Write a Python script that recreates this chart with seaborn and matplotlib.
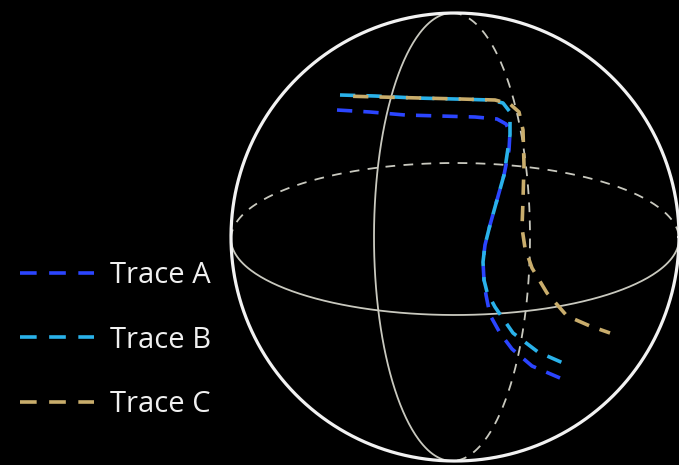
import matplotlib
matplotlib.use("Agg")
import matplotlib.pyplot as plt
import numpy as np
import pandas as pd
import seaborn as sns

# Sphere geometry (drawing coordinates, y grows downward)
sphere_center = (455, 237)
sphere_radius = 224
equator_minor = 76
meridian_minor = 78

# Trace paths on the sphere
trace_names = ["Trace A", "Trace B", "Trace C"]
trace_colors = ["#2b45ff", "#2ab2ea", "#c9ad6c"]

trace_a_x = [337, 370, 405, 440, 475, 497, 506, 510, 509, 504, 497, 490, 485, 483, 484, 486, 490, 500, 512, 532, 560]
trace_a_y = [110, 112, 115, 116, 117, 119, 124, 132, 150, 175, 200, 225, 245, 262, 280, 295, 315, 333, 349, 366, 378]

trace_b_x = [340, 375, 415, 455, 490, 503, 510, 510, 504, 497, 490, 485, 483, 484, 487, 495, 513, 538, 570]
trace_b_y = [95, 96, 98, 99, 100, 103, 112, 135, 175, 200, 225, 245, 262, 280, 292, 307, 333, 352, 366]

trace_c_x = [342, 380, 420, 460, 495, 510, 519, 523, 524, 523, 522, 525, 532, 547, 567, 590, 610]
trace_c_y = [96, 97, 98, 99, 100, 104, 112, 130, 165, 200, 228, 248, 268, 293, 316, 326, 333]

trace_x = [trace_a_x, trace_b_x, trace_c_x]
trace_y = [trace_a_y, trace_b_y, trace_c_y]
dash_offsets = [0, 0, 11]

sns.set_theme(style="white")
plt.rcParams["font.family"] = ["Open Sans", "DejaVu Sans"]
plt.rcParams["lines.scale_dashes"] = False

fig = plt.figure(figsize=(6.79, 4.65), dpi=100, facecolor="black")
ax = fig.add_axes([0, 0, 1, 1])
ax.set_facecolor("black")

cx, cy = sphere_center
R = sphere_radius
grid_color = "#c9c9bf"

# Outer silhouette
t = np.linspace(0, 2 * np.pi, 400)
ax.plot(cx + R * np.cos(t), cy + R * np.sin(t), color="#f2f2f2", lw=2.3, zorder=3)

# Equator: front half solid, back half dashed
front = np.linspace(0, np.pi, 200)
back = np.linspace(np.pi, 2 * np.pi, 200)
ax.plot(cx + R * np.cos(front), cy + 2 + equator_minor * np.sin(front),
        color=grid_color, lw=1.3, zorder=2)
ax.plot(cx + R * np.cos(back), cy + 2 + equator_minor * np.sin(back),
        color=grid_color, lw=1.3, ls=(0, (7, 6)), zorder=2)

# Meridian: left half solid, right half dashed
left = np.linspace(np.pi / 2, 3 * np.pi / 2, 200)
right = np.linspace(-np.pi / 2, np.pi / 2, 200)
mx = cx - 3
ax.plot(mx + meridian_minor * np.cos(left), cy + R * np.sin(left),
        color=grid_color, lw=1.3, zorder=2)
ax.plot(mx + meridian_minor * np.cos(right), cy + R * np.sin(right),
        color=grid_color, lw=1.3, ls=(0, (7, 6)), zorder=2)

# Traces
for name, xs, ys, col, off in zip(trace_names, trace_x, trace_y, trace_colors, dash_offsets):
    df = pd.DataFrame({"x": xs, "y": ys})
    sns.lineplot(data=df, x="x", y="y", sort=False, estimator=None, ax=ax,
                 color=col, lw=2.6, linestyle=(off, (11, 8)), label=name, zorder=4)

ax.set_xlim(0, 679)
ax.set_ylim(465, 0)
ax.axis("off")

leg = ax.legend(loc="upper left", bbox_to_anchor=(20 / 679, 1 - 261 / 465),
                frameon=False, fontsize=21, handlelength=2.55, handletextpad=0.55,
                labelspacing=1.22, borderpad=0, borderaxespad=0)
for txt in leg.get_texts():
    txt.set_color("#f0f0f0")
for handle in leg.get_lines():
    handle.set_linestyle((0, (12, 9)))

fig.savefig("out.png", dpi=100, facecolor="black")
